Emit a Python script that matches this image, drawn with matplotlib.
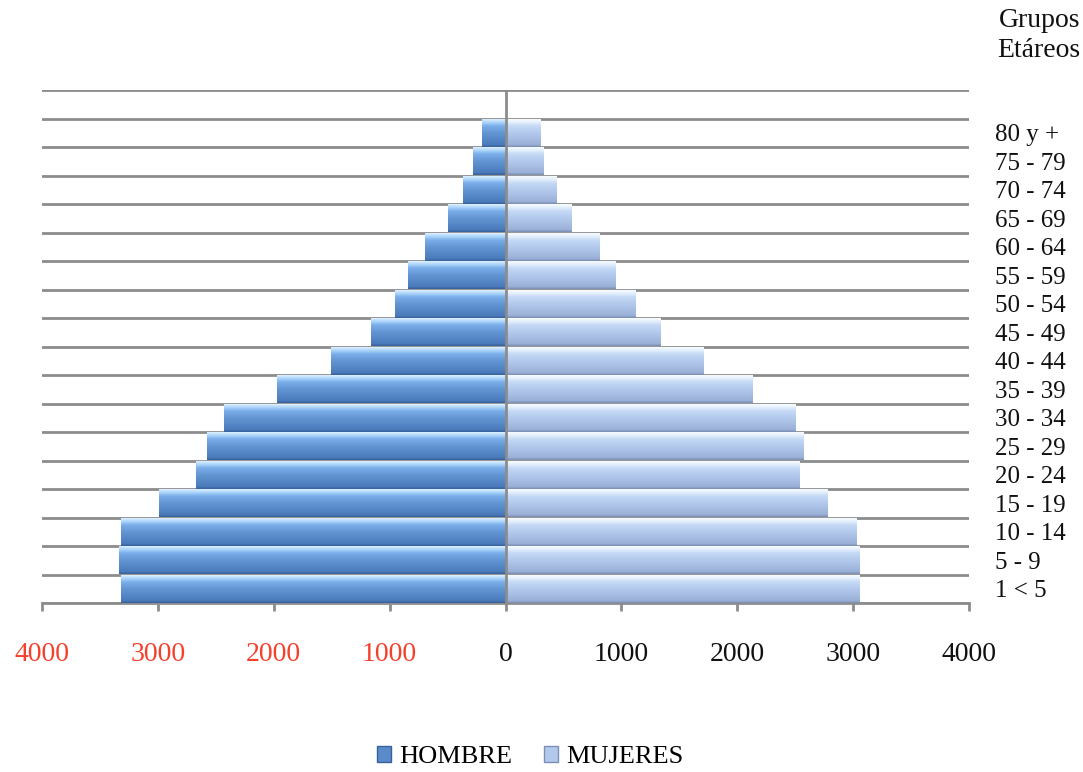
import numpy as np
import matplotlib
matplotlib.use('Agg')
import matplotlib.pyplot as plt
from matplotlib.colors import LinearSegmentedColormap
from matplotlib.patches import Patch

plt.rcParams['font.family'] = ['Liberation Serif', 'DejaVu Serif']

# age groups, bottom to top
grupos = ['1 < 5', '5 - 9', '10 - 14', '15 - 19', '20 - 24', '25 - 29',
          '30 - 34', '35 - 39', '40 - 44', '45 - 49', '50 - 54', '55 - 59',
          '60 - 64', '65 - 69', '70 - 74', '75 - 79', '80 y +']
hombre = [3317, 3332, 3317, 2992, 2670, 2575, 2433, 1970, 1506, 1162,
          954, 845, 698, 497, 366, 278, 200]
mujeres = [3047, 3047, 3025, 2775, 2534, 2566, 2496, 2128, 1705, 1336,
           1115, 948, 804, 564, 435, 320, 301]
xticks = [-4000, -3000, -2000, -1000, 0, 1000, 2000, 3000, 4000]

# cylinder-like shading, bottom -> top
cmap_h = LinearSegmentedColormap.from_list('h', [
    (0.0, '#36629c'), (0.08, '#4a7aba'), (0.5, '#6395d3'),
    (0.76, '#7aaee9'), (0.88, '#aad2fa'), (1.0, '#dcefff')])
cmap_m = LinearSegmentedColormap.from_list('m', [
    (0.0, '#7b8fb5'), (0.08, '#9bb0d7'), (0.5, '#b3c9ec'),
    (0.76, '#c5daf6'), (0.88, '#e2eefc'), (1.0, '#f7fbff')])

fig = plt.figure(figsize=(10.83, 7.72), dpi=100)
ax = fig.add_axes([42/1083, 1-603/772, 927/1083, 513/772])

y = np.arange(len(grupos))
bh = ax.barh(y, -np.array(hombre), height=0.97, color='#6395d3', zorder=2)
bm = ax.barh(y, mujeres, height=0.97, color='#b3c9ec', zorder=2)

grad = np.linspace(0, 1, 64).reshape(-1, 1)
for bars, cm in ((bh, cmap_h), (bm, cmap_m)):
    for p in bars:
        x0, y0 = p.get_x(), p.get_y()
        w, h = p.get_width(), p.get_height()
        ax.imshow(grad, cmap=cm, origin='lower', aspect='auto',
                  extent=(x0, x0 + w, y0, y0 + h),
                  interpolation='bilinear', zorder=3)

ax.set_xlim(-4000, 4000)
ax.set_ylim(-0.5, 17.5)

# horizontal gridlines between groups
ax.set_yticks(np.arange(-0.5, 17.6, 1), minor=True)
ax.yaxis.grid(True, which='minor', color='#8c8c8c', lw=2)
ax.set_axisbelow(True)
ax.axvline(0, color='#8c8c8c', lw=2, zorder=5)

ax.set_yticks(y)
ax.set_yticklabels(grupos)
ax.yaxis.tick_right()
ax.tick_params(axis='y', which='both', length=0, pad=19, labelsize=18,
               labelcolor='#111111')

ax.set_xticks(xticks)
ax.set_xticklabels([str(abs(t)) for t in xticks])
ax.tick_params(axis='x', length=6, width=2, color='#8c8c8c', pad=22,
               labelsize=20, labelcolor='#111111')
for lbl, t in zip(ax.get_xticklabels(), xticks):
    if t < 0:
        lbl.set_color('#f5402c')

for s in ('left', 'right', 'top'):
    ax.spines[s].set_visible(False)
ax.spines['bottom'].set_color('#8c8c8c')
ax.spines['bottom'].set_linewidth(2)

fig.text(1080/1083, 1-8/772, 'Grupos\nEtáreos', ha='right', va='top',
         fontsize=20, linespacing=1.25, color='#111111')

handles = [Patch(facecolor='#5a8bc8', edgecolor='#36629c'),
           Patch(facecolor='#b3c9ec', edgecolor='#7b8fb5')]
fig.legend(handles, ['HOMBRE', 'MUJERES'], loc='center',
           bbox_to_anchor=(530/1083, 1-757/772), ncol=2, frameon=False,
           fontsize=19, handlelength=0.55, handleheight=0.55,
           handletextpad=0.3, columnspacing=1.2)

fig.savefig('out.png', dpi=100)
